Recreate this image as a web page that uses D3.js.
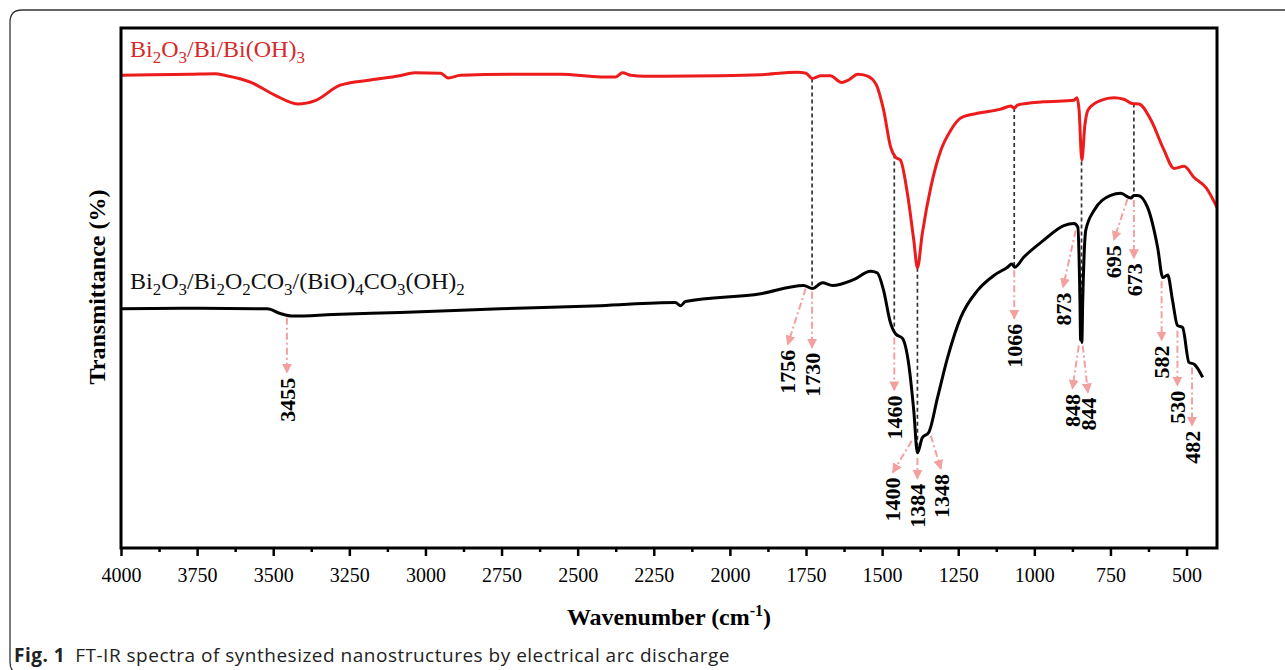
<!DOCTYPE html>
<html>
<head>
<meta charset="utf-8">
<script src="https://cdn.jsdelivr.net/npm/d3@7"></script>
<style>
  body { margin: 0; background: #fff; }
  svg { display: block; }
</style>
</head>
<body>
<script>
// spectra: wavenumber (cm-1) and transmittance (a.u.)
var redWave = [4000, 3900, 3775, 3690, 3660, 3575, 3495, 3420, 3360, 3280, 3180, 3085, 3035, 2950, 2925, 2885,
  2690, 2555, 2425, 2375, 2353, 2325, 2280, 2030, 1900, 1778, 1750, 1730, 1700, 1670, 1633, 1610, 1580, 1550,
  1520, 1495, 1472, 1455, 1440, 1417, 1396, 1384, 1368, 1340, 1307, 1275, 1242, 1187, 1110, 1077, 1066, 1055,
  970, 870, 860, 853, 844, 834, 824, 804, 781, 739, 706, 679, 656, 617, 574, 541, 508, 476, 436, 400];
var redTrans = [90.9, 91.0, 91.1, 91.2, 90.9, 89.6, 87.1, 85.4, 86.1, 89.0, 90.0, 90.8, 91.4, 91.3, 90.4, 90.9,
  91.1, 91.1, 90.6, 90.6, 91.4, 90.9, 90.7, 90.8, 91.0, 91.5, 91.3, 90.3, 90.8, 90.8, 89.5, 90.0, 91.1, 90.8,
  89.2, 84.2, 77.1, 75.1, 74.6, 68.2, 59.2, 53.9, 60.5, 69.4, 76.5, 80.3, 82.7, 83.6, 84.4, 85.0, 84.6, 85.2,
  85.8, 86.1, 86.6, 84.2, 74.6, 81.3, 84.2, 85.4, 86.1, 86.6, 86.3, 85.5, 85.4, 82.3, 76.5, 73.0, 73.4, 71.3, 69.3, 65.5];

var blackWave = [4000, 3740, 3520, 3477, 3435, 3303, 3083, 2754, 2425, 2179, 2162, 2146, 1899, 1758, 1729, 1696,
  1663, 1594, 1538, 1516, 1495, 1473, 1456, 1433, 1413, 1396, 1384, 1368, 1347, 1318, 1285, 1242, 1187, 1133,
  1088, 1074, 1064, 1035, 969, 903, 870, 857, 850, 848, 846, 844, 841, 831, 804, 749, 716, 683, 673, 660, 628,
  595, 578, 562, 546, 530, 513, 492, 474, 447];
var blackTrans = [46.0, 46.1, 46.0, 45.1, 44.6, 44.9, 45.3, 46.0, 46.6, 47.2, 46.6, 47.4, 48.9, 50.5, 49.9, 51.0,
  50.5, 51.6, 53.2, 52.9, 49.5, 43.4, 41.2, 40.3, 35.5, 26.4, 18.3, 21.2, 22.2, 28.9, 36.6, 44.3, 49.5, 52.4,
  54.0, 54.6, 54.0, 55.9, 59.2, 62.0, 62.4, 61.7, 47.0, 40.0, 46.0, 39.5, 47.6, 61.1, 64.9, 67.8, 68.2, 67.3, 67.8, 67.8, 65.5,
  57.8, 52.0, 52.5, 47.6, 42.8, 42.4, 35.7, 35.3, 32.8];

var majorTicks = [4000, 3750, 3500, 3250, 3000, 2750, 2500, 2250, 2000, 1750, 1500, 1250, 1000, 750, 500];
var minorTicks = [3875, 3625, 3375, 3125, 2875, 2625, 2375, 2125, 1875, 1625, 1375, 1125, 875, 625];

// dashed guides joining the two spectra
var guideWave = [1730, 1460, 1384, 1066, 845, 673];

// peak arrows under the black spectrum
var peakLabels    = ["3455", "1756", "1730", "1460", "1400", "1384", "1348", "1066", "873", "848", "844", "695", "673", "582", "530", "482"];
var arrowFromWave = [3455, 1751, 1730, 1460, 1403, 1384, 1340, 1066, 864, 854, 841, 694, 673, 582, 530, 482];
var arrowFromT    = [44.3, 49.9, 49.3, 40.5, 20.6, 17.3, 21.6, 53.4, 61.1, 38.9, 38.9, 67.1, 66.9, 51.3, 41.8, 34.7];
var arrowToWave   = [3455, 1810, 1730, 1460, 1465, 1384, 1307, 1066, 906, 875, 824, 739, 673, 582, 530, 482];
var arrowToT      = [33.7, 39.1, 38.5, 30.3, 14.5, 13.3, 15.2, 44.1, 50.1, 30.6, 29.9, 59.2, 55.7, 39.9, 31.2, 23.5];

var svgWidth = 1285, svgHeight = 670;
var plot = {left: 121, top: 28, right: 1217, bottom: 548};

var serif = "'Liberation Serif', 'Times New Roman', serif";

var svg = d3.select("body").append("svg")
  .attr("width", svgWidth)
  .attr("height", svgHeight);

// figure frame
svg.append("path")
  .attr("d", "M1290,10 H22 Q10,10 10,22 V662 Q10,674 22,674")
  .attr("fill", "none")
  .attr("stroke", "#333")
  .attr("stroke-width", 1.3);

var x = d3.scaleLinear().domain([4000, 400]).range([plot.left, plot.right]);
var y = d3.scaleLinear().domain([0, 100]).range([plot.bottom, plot.top]);

var redData = redWave.map(function(w, i) { return [w, redTrans[i]]; });
var blackData = blackWave.map(function(w, i) { return [w, blackTrans[i]]; });

function interp(wave, trans, w) {
  for (var i = 0; i < wave.length - 1; i++) {
    if (w <= wave[i] && w >= wave[i + 1]) {
      var t = (wave[i] - w) / (wave[i] - wave[i + 1]);
      return trans[i] + t * (trans[i + 1] - trans[i]);
    }
  }
  return trans[trans.length - 1];
}

var defs = svg.append("defs");
defs.append("marker")
  .attr("id", "pinkhead")
  .attr("viewBox", "0 0 10 10")
  .attr("refX", 9).attr("refY", 5)
  .attr("markerWidth", 10).attr("markerHeight", 10)
  .attr("markerUnits", "userSpaceOnUse")
  .attr("orient", "auto")
  .append("path")
  .attr("d", "M0,0 L10,5 L0,10 Z")
  .attr("fill", "#f3a0a0");

// dashed guides
svg.append("g").selectAll("line")
  .data(guideWave)
  .join("line")
  .attr("x1", function(d) { return x(d); })
  .attr("x2", function(d) { return x(d); })
  .attr("y1", function(d) { return y(interp(redWave, redTrans, d)); })
  .attr("y2", function(d) { return y(interp(blackWave, blackTrans, d)); })
  .attr("stroke", "#333")
  .attr("stroke-width", 1.7)
  .attr("stroke-dasharray", "4,3");

var line = d3.line()
  .x(function(d) { return x(d[0]); })
  .y(function(d) { return y(d[1]); })
  .curve(d3.curveMonotoneX);

svg.append("path")
  .datum(redData)
  .attr("d", line)
  .attr("fill", "none")
  .attr("stroke", "#ec1c1c")
  .attr("stroke-width", 3)
  .attr("stroke-linejoin", "round");

svg.append("path")
  .datum(blackData)
  .attr("d", line)
  .attr("fill", "none")
  .attr("stroke", "#000")
  .attr("stroke-width", 3)
  .attr("stroke-linejoin", "round");

// peak arrows + labels
var arrows = svg.append("g");
peakLabels.forEach(function(lab, i) {
  var x0 = x(arrowFromWave[i]), y0 = y(arrowFromT[i]);
  var x1 = x(arrowToWave[i]), y1 = y(arrowToT[i]);
  arrows.append("line")
    .attr("x1", x0).attr("y1", y0)
    .attr("x2", x1).attr("y2", y1)
    .attr("stroke", "#f3a0a0")
    .attr("stroke-width", 2)
    .attr("stroke-dasharray", "7,3,2,3")
    .attr("marker-end", "url(#pinkhead)");
  arrows.append("text")
    .attr("transform", "translate(" + x1 + "," + (y1 + 5) + ") rotate(-90)")
    .attr("text-anchor", "end")
    .attr("dy", "0.35em")
    .style("font-family", serif)
    .style("font-weight", "bold")
    .style("font-size", "22px")
    .text(lab);
});

// plot frame
svg.append("rect")
  .attr("x", plot.left).attr("y", plot.top)
  .attr("width", plot.right - plot.left)
  .attr("height", plot.bottom - plot.top)
  .attr("fill", "none")
  .attr("stroke", "#000")
  .attr("stroke-width", 3);

// axes
var xAxis = d3.axisBottom(x).tickValues(majorTicks).tickSize(8).tickPadding(12)
  .tickFormat(d3.format("d"));
var gX = svg.append("g")
  .attr("transform", "translate(0," + plot.bottom + ")")
  .call(xAxis);
gX.select(".domain").remove();
gX.selectAll("line").attr("stroke-width", 2.5);
gX.selectAll("text").style("font-family", serif).style("font-size", "20px").attr("fill", "#000");

var gMinor = svg.append("g")
  .attr("transform", "translate(0," + plot.bottom + ")")
  .call(d3.axisBottom(x).tickValues(minorTicks).tickSize(4).tickFormat(""));
gMinor.select(".domain").remove();
gMinor.selectAll("line").attr("stroke-width", 2.5);

// chemical formula text with subscripts: "_2" means subscript 2
function formula(sel, str) {
  var parts = str.split(/_(\d)/);
  parts.forEach(function(p, i) {
    if (p === "") return;
    if (i % 2 === 1) {
      sel.append("tspan").attr("dy", 6).style("font-size", "17px").text(p);
    } else {
      sel.append("tspan").attr("dy", i === 0 ? 0 : -6).text(p);
    }
  });
}

var redLabel = svg.append("text")
  .attr("x", 130).attr("y", 57)
  .style("font-family", serif).style("font-size", "24px")
  .attr("fill", "#d42a2a");
formula(redLabel, "Bi_2O_3/Bi/Bi(OH)_3");

var blackLabel = svg.append("text")
  .attr("x", 130).attr("y", 289)
  .style("font-family", serif).style("font-size", "24px")
  .attr("fill", "#111");
formula(blackLabel, "Bi_2O_3/Bi_2O_2CO_3/(BiO)_4CO_3(OH)_2");

// axis titles
svg.append("text")
  .attr("transform", "translate(105,287) rotate(-90)")
  .attr("text-anchor", "middle")
  .style("font-family", serif).style("font-weight", "bold").style("font-size", "24px")
  .text("Transmittance (%)");

var xt = svg.append("text")
  .attr("x", (plot.left + plot.right) / 2).attr("y", 625)
  .attr("text-anchor", "middle")
  .style("font-family", serif).style("font-weight", "bold").style("font-size", "24px");
xt.append("tspan").text("Wavenumber (cm");
xt.append("tspan").attr("dy", -9).style("font-size", "16px").text("-1");
xt.append("tspan").attr("dy", 9).text(")");

// caption
var cap = svg.append("text")
  .attr("x", 14).attr("y", 662)
  .style("font-family", "'Open Sans', 'Noto Sans', sans-serif").style("font-size", "19px")
  .style("letter-spacing", "0.5px")
  .attr("fill", "#222");
cap.append("tspan").style("font-weight", "bold").text("Fig. 1");
cap.append("tspan").attr("dx", 10).text("FT-IR spectra of synthesized nanostructures by electrical arc discharge");
</script>
</body>
</html>
